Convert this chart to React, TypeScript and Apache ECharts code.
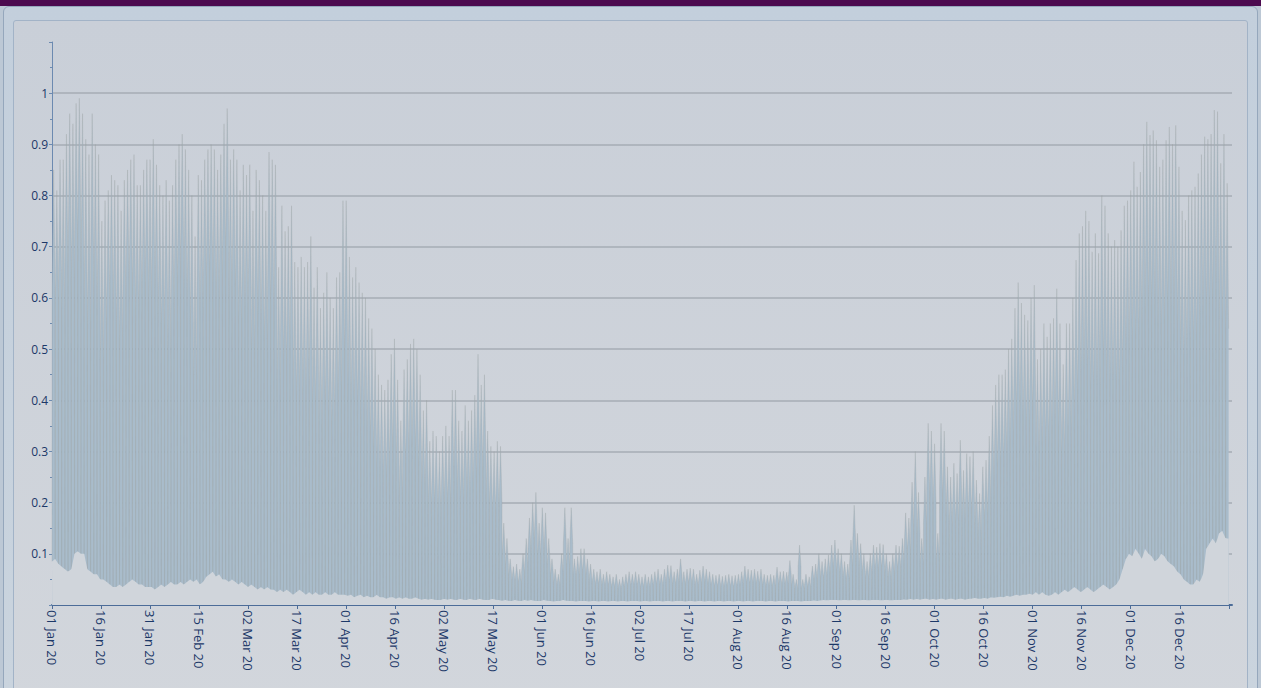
import React, { useEffect, useRef } from "react";
import * as echarts from "echarts";

// Daily peak value (one entry per day, 01 Jan 2020 .. 31 Dec 2020)
const dailyHigh: number[] = [
  // Jan
  0.85, 0.81, 0.87, 0.87, 0.92, 0.96, 0.94, 0.98, 0.99, 0.96, 0.91, 0.88, 0.96, 0.9, 0.88, 0.75, 0.79, 0.81, 0.84, 0.83, 0.82, 0.77, 0.83, 0.85, 0.87, 0.88, 0.82, 0.82, 0.85, 0.87, 0.87,
  // Feb
  0.91, 0.86, 0.82, 0.8, 0.83, 0.79, 0.82, 0.87, 0.9, 0.92, 0.89, 0.85, 0.8, 0.72, 0.84, 0.83, 0.87, 0.89, 0.9, 0.89, 0.85, 0.88, 0.94, 0.97, 0.87, 0.89, 0.87, 0.81, 0.86,
  // Mar
  0.84, 0.86, 0.77, 0.85, 0.83, 0.8, 0.77, 0.885, 0.87, 0.86, 0.66, 0.78, 0.73, 0.74, 0.78, 0.67, 0.66, 0.68, 0.66, 0.67, 0.72, 0.62, 0.66, 0.58, 0.61, 0.65, 0.6, 0.58, 0.64, 0.65, 0.79,
  // Apr
  0.79, 0.68, 0.64, 0.66, 0.63, 0.61, 0.6, 0.56, 0.54, 0.5, 0.45, 0.43, 0.42, 0.44, 0.49, 0.52, 0.44, 0.36, 0.46, 0.48, 0.51, 0.52, 0.5, 0.45, 0.38, 0.4, 0.32, 0.34, 0.33, 0.3,
  // May
  0.33, 0.35, 0.33, 0.42, 0.42, 0.36, 0.34, 0.39, 0.36, 0.38, 0.41, 0.49, 0.43, 0.45, 0.34, 0.31, 0.3, 0.32, 0.31, 0.16, 0.13, 0.09, 0.075, 0.08, 0.07, 0.1, 0.13, 0.17, 0.2, 0.22, 0.16,
  // Jun
  0.19, 0.18, 0.13, 0.09, 0.07, 0.06, 0.1, 0.19, 0.13, 0.19, 0.09, 0.095, 0.11, 0.11, 0.09, 0.08, 0.07, 0.065, 0.07, 0.06, 0.065, 0.06, 0.055, 0.06, 0.05, 0.055, 0.06, 0.065, 0.06, 0.065,
  // Jul
  0.06, 0.055, 0.06, 0.055, 0.06, 0.065, 0.07, 0.06, 0.07, 0.078, 0.077, 0.065, 0.07, 0.09, 0.065, 0.07, 0.072, 0.07, 0.06, 0.068, 0.076, 0.07, 0.065, 0.06, 0.058, 0.06, 0.056, 0.058, 0.06, 0.057, 0.058,
  // Aug
  0.06, 0.065, 0.076, 0.07, 0.068, 0.07, 0.066, 0.07, 0.06, 0.058, 0.06, 0.058, 0.074, 0.065, 0.066, 0.064, 0.087, 0.06, 0.05, 0.117, 0.05, 0.06, 0.055, 0.076, 0.08, 0.1, 0.085, 0.09, 0.098, 0.117, 0.127,
  // Sep
  0.11, 0.1, 0.085, 0.08, 0.127, 0.195, 0.14, 0.12, 0.1, 0.085, 0.1, 0.117, 0.113, 0.12, 0.118, 0.1, 0.085, 0.1, 0.117, 0.115, 0.13, 0.18, 0.17, 0.24, 0.3, 0.22, 0.13, 0.25, 0.355, 0.34,
  // Oct
  0.315, 0.14, 0.355, 0.34, 0.27, 0.25, 0.277, 0.257, 0.322, 0.263, 0.296, 0.29, 0.3, 0.244, 0.218, 0.27, 0.283, 0.33, 0.39, 0.43, 0.45, 0.45, 0.46, 0.5, 0.52, 0.58, 0.63, 0.59, 0.567, 0.556, 0.6,
  // Nov
  0.625, 0.48, 0.5, 0.55, 0.524, 0.55, 0.56, 0.618, 0.55, 0.47, 0.55, 0.55, 0.6, 0.674, 0.726, 0.74, 0.77, 0.75, 0.69, 0.726, 0.687, 0.8, 0.78, 0.726, 0.7, 0.713, 0.7, 0.732, 0.78, 0.79,
  // Dec
  0.81, 0.866, 0.817, 0.846, 0.9, 0.944, 0.918, 0.927, 0.908, 0.856, 0.87, 0.908, 0.934, 0.9, 0.937, 0.856, 0.77, 0.752, 0.8, 0.81, 0.817, 0.843, 0.88, 0.915, 0.91, 0.92, 0.967, 0.964, 0.863, 0.92, 0.824,
];

// Typical morning / evening level of each day
const dailyShoulder: number[] = [
  // Jan
  0.62, 0.6, 0.65, 0.58, 0.66, 0.7, 0.64, 0.72, 0.75, 0.66, 0.6, 0.55, 0.68, 0.62, 0.58, 0.48, 0.55, 0.6, 0.63, 0.58, 0.55, 0.52, 0.6, 0.64, 0.65, 0.62, 0.58, 0.6, 0.63, 0.66, 0.6,
  // Feb
  0.66, 0.62, 0.57, 0.55, 0.6, 0.5, 0.58, 0.64, 0.66, 0.7, 0.62, 0.6, 0.55, 0.45, 0.6, 0.58, 0.64, 0.66, 0.67, 0.63, 0.6, 0.64, 0.7, 0.72, 0.6, 0.65, 0.62, 0.56, 0.6,
  // Mar
  0.58, 0.62, 0.5, 0.6, 0.57, 0.55, 0.52, 0.62, 0.6, 0.58, 0.44, 0.52, 0.48, 0.5, 0.52, 0.44, 0.42, 0.46, 0.42, 0.44, 0.48, 0.4, 0.43, 0.36, 0.4, 0.42, 0.38, 0.36, 0.42, 0.43, 0.52,
  // Apr
  0.5, 0.43, 0.4, 0.42, 0.4, 0.38, 0.38, 0.35, 0.34, 0.31, 0.28, 0.27, 0.26, 0.28, 0.31, 0.33, 0.27, 0.22, 0.29, 0.3, 0.32, 0.33, 0.31, 0.28, 0.24, 0.25, 0.2, 0.21, 0.21, 0.19,
  // May
  0.21, 0.22, 0.21, 0.27, 0.27, 0.23, 0.21, 0.25, 0.22, 0.24, 0.26, 0.31, 0.27, 0.29, 0.22, 0.2, 0.19, 0.2, 0.2, 0.1, 0.08, 0.06, 0.05, 0.05, 0.045, 0.065, 0.08, 0.11, 0.13, 0.14, 0.1,
  // Jun
  0.12, 0.11, 0.08, 0.06, 0.045, 0.04, 0.065, 0.12, 0.08, 0.12, 0.06, 0.06, 0.07, 0.07, 0.06, 0.05, 0.045, 0.042, 0.045, 0.04, 0.042, 0.04, 0.036, 0.04, 0.033, 0.036, 0.04, 0.042, 0.04, 0.042,
  // Jul
  0.04, 0.036, 0.04, 0.036, 0.04, 0.042, 0.045, 0.04, 0.045, 0.05, 0.05, 0.042, 0.045, 0.058, 0.042, 0.045, 0.047, 0.045, 0.04, 0.044, 0.05, 0.045, 0.042, 0.04, 0.038, 0.04, 0.036, 0.038, 0.04, 0.037, 0.038,
  // Aug
  0.04, 0.042, 0.05, 0.045, 0.044, 0.045, 0.043, 0.045, 0.04, 0.038, 0.04, 0.038, 0.048, 0.042, 0.043, 0.042, 0.056, 0.04, 0.033, 0.075, 0.033, 0.04, 0.036, 0.05, 0.052, 0.065, 0.055, 0.058, 0.064, 0.075, 0.082,
  // Sep
  0.07, 0.065, 0.055, 0.052, 0.08, 0.125, 0.09, 0.078, 0.065, 0.055, 0.065, 0.076, 0.073, 0.078, 0.076, 0.065, 0.055, 0.065, 0.076, 0.075, 0.085, 0.115, 0.11, 0.155, 0.19, 0.14, 0.085, 0.16, 0.23, 0.22,
  // Oct
  0.2, 0.09, 0.23, 0.22, 0.175, 0.16, 0.18, 0.165, 0.21, 0.17, 0.19, 0.19, 0.195, 0.16, 0.14, 0.175, 0.18, 0.21, 0.25, 0.28, 0.29, 0.29, 0.3, 0.32, 0.34, 0.38, 0.41, 0.38, 0.37, 0.36, 0.39,
  // Nov
  0.4, 0.31, 0.32, 0.35, 0.33, 0.35, 0.36, 0.4, 0.35, 0.3, 0.35, 0.35, 0.38, 0.42, 0.45, 0.46, 0.48, 0.47, 0.43, 0.45, 0.43, 0.5, 0.49, 0.45, 0.44, 0.45, 0.44, 0.46, 0.5, 0.51,
  // Dec
  0.52, 0.56, 0.53, 0.55, 0.58, 0.62, 0.6, 0.6, 0.59, 0.55, 0.56, 0.59, 0.61, 0.58, 0.61, 0.55, 0.5, 0.49, 0.52, 0.53, 0.53, 0.55, 0.57, 0.6, 0.59, 0.6, 0.63, 0.63, 0.56, 0.6, 0.54,
];

// Night-time minimum of each day
const dailyLow: number[] = [
  // Jan
  0.085, 0.09, 0.08, 0.075, 0.07, 0.065, 0.07, 0.1, 0.105, 0.1, 0.1, 0.07, 0.065, 0.06, 0.06, 0.05, 0.05, 0.045, 0.04, 0.035, 0.035, 0.04, 0.035, 0.04, 0.045, 0.05, 0.045, 0.04, 0.04, 0.035, 0.035,
  // Feb
  0.035, 0.03, 0.035, 0.04, 0.035, 0.04, 0.045, 0.04, 0.04, 0.045, 0.04, 0.045, 0.05, 0.045, 0.05, 0.04, 0.045, 0.055, 0.06, 0.065, 0.055, 0.06, 0.05, 0.05, 0.045, 0.05, 0.045, 0.04, 0.045,
  // Mar
  0.04, 0.035, 0.04, 0.035, 0.03, 0.035, 0.03, 0.035, 0.03, 0.03, 0.025, 0.03, 0.025, 0.03, 0.025, 0.02, 0.025, 0.03, 0.025, 0.02, 0.025, 0.02, 0.025, 0.02, 0.02, 0.025, 0.02, 0.02, 0.025, 0.02, 0.02,
  // Apr
  0.02, 0.018, 0.02, 0.015, 0.018, 0.02, 0.015, 0.018, 0.015, 0.015, 0.02, 0.015, 0.015, 0.012, 0.015, 0.015, 0.012, 0.015, 0.012, 0.015, 0.012, 0.012, 0.015, 0.012, 0.01, 0.012, 0.01, 0.012, 0.01, 0.01,
  // May
  0.01, 0.012, 0.01, 0.012, 0.01, 0.01, 0.012, 0.01, 0.01, 0.012, 0.01, 0.01, 0.012, 0.01, 0.01, 0.01, 0.012, 0.01, 0.01, 0.008, 0.01, 0.008, 0.008, 0.01, 0.008, 0.008, 0.01, 0.008, 0.01, 0.008, 0.008,
  // Jun
  0.008, 0.01, 0.008, 0.008, 0.007, 0.008, 0.008, 0.01, 0.008, 0.008, 0.008, 0.007, 0.008, 0.008, 0.008, 0.007, 0.008, 0.008, 0.007, 0.008, 0.008, 0.007, 0.008, 0.008, 0.007, 0.008, 0.008, 0.007, 0.008, 0.008,
  // Jul
  0.008, 0.007, 0.008, 0.008, 0.007, 0.008, 0.008, 0.008, 0.007, 0.008, 0.008, 0.007, 0.008, 0.008, 0.008, 0.007, 0.008, 0.008, 0.007, 0.008, 0.008, 0.007, 0.008, 0.008, 0.007, 0.008, 0.008, 0.007, 0.008, 0.008, 0.007,
  // Aug
  0.008, 0.008, 0.007, 0.008, 0.008, 0.007, 0.008, 0.008, 0.008, 0.007, 0.008, 0.008, 0.007, 0.008, 0.008, 0.008, 0.007, 0.008, 0.008, 0.008, 0.007, 0.008, 0.008, 0.008, 0.009, 0.008, 0.009, 0.01, 0.009, 0.01, 0.01,
  // Sep
  0.01, 0.009, 0.01, 0.01, 0.009, 0.01, 0.01, 0.009, 0.01, 0.01, 0.009, 0.01, 0.01, 0.01, 0.009, 0.01, 0.01, 0.009, 0.01, 0.01, 0.01, 0.011, 0.01, 0.012, 0.01, 0.012, 0.01, 0.012, 0.012, 0.01,
  // Oct
  0.012, 0.01, 0.012, 0.012, 0.01, 0.012, 0.012, 0.01, 0.012, 0.012, 0.01, 0.012, 0.012, 0.014, 0.012, 0.012, 0.014, 0.012, 0.015, 0.014, 0.015, 0.016, 0.015, 0.018, 0.016, 0.018, 0.02, 0.018, 0.02, 0.02, 0.022,
  // Nov
  0.02, 0.025, 0.02, 0.025, 0.02, 0.018, 0.02, 0.025, 0.02, 0.025, 0.03, 0.025, 0.03, 0.035, 0.03, 0.025, 0.03, 0.035, 0.03, 0.025, 0.03, 0.035, 0.04, 0.035, 0.03, 0.035, 0.04, 0.05, 0.07, 0.09,
  // Dec
  0.1, 0.095, 0.11, 0.1, 0.09, 0.11, 0.1, 0.095, 0.085, 0.09, 0.1, 0.095, 0.085, 0.08, 0.075, 0.065, 0.06, 0.05, 0.045, 0.04, 0.04, 0.05, 0.045, 0.06, 0.11, 0.12, 0.13, 0.12, 0.14, 0.145, 0.13,
];

const monthNames = ["Jan", "Feb", "Mar", "Apr", "May", "Jun", "Jul", "Aug", "Sep", "Oct", "Nov", "Dec"];
const yearLabel = "20";
const tickIntervalDays = 15.25;

function dayLabel(v: number): string {
  if (v > 360) return "";
  const d = new Date(Date.UTC(2020, 0, 1) + Math.floor(v + 1e-6) * 86400000);
  const dd = String(d.getUTCDate()).padStart(2, "0");
  return `${dd} ${monthNames[d.getUTCMonth()]} ${yearLabel}`;
}

// Samples within a day: night low, morning level, midday peak, evening level
function buildSeries() {
  const offsets = [0, 0.05, 0.5, 0.95];
  const floor: number[][] = [];
  const level: number[][] = [];
  const n = dailyHigh.length;
  for (let d = 0; d < n; d++) {
    const lo = dailyLow[d];
    const loNext = dailyLow[Math.min(d + 1, n - 1)];
    const vals = [lo, dailyShoulder[d], dailyHigh[d], dailyShoulder[d]];
    for (let k = 0; k < 4; k++) {
      const t = d + offsets[k];
      level.push([t, vals[k]]);
      floor.push([t, lo + (loNext - lo) * offsets[k]]);
    }
  }
  return { floor, level };
}

const panelBottomColor = "#d0d5db";

export default function App() {
  const ref = useRef<HTMLDivElement>(null);
  useEffect(() => {
    if (!ref.current) return;
    const chart = echarts.init(ref.current, undefined, { renderer: "svg" });
    const { floor, level } = buildSeries();
    const labelColor = "#1c3868";
    chart.setOption({
      animation: false,
      backgroundColor: "transparent",
      grid: { left: 52, right: 29, top: 42, bottom: 83, containLabel: false },
      xAxis: {
        type: "value",
        min: 0,
        max: 367,
        interval: tickIntervalDays,
        axisLine: { show: true, lineStyle: { color: "#4c6c98", width: 2 } },
        axisTick: { show: true, length: 4, lineStyle: { color: "#4c6c98" } },
        splitLine: { show: false },
        axisLabel: {
          rotate: -90,
          margin: 5,
          color: labelColor,
          fontSize: 13,
          fontFamily: "Open Sans",
          formatter: (v: number) => dayLabel(v),
          showMaxLabel: false,
        },
      },
      yAxis: {
        type: "value",
        min: 0,
        max: 1.1,
        interval: 0.1,
        axisLine: { show: true, lineStyle: { color: "#6c8ab0", width: 1 } },
        axisTick: { show: true, length: 3, lineStyle: { color: "#6c8ab0" } },
        minorTick: { show: true, splitNumber: 2, length: 2, lineStyle: { color: "#6c8ab0" } },
        splitLine: {
          show: true,
          showMinLine: false,
          showMaxLine: false,
          lineStyle: { color: "#a6adb5", width: 1.5 },
        },
        axisLabel: {
          color: labelColor,
          fontSize: 12,
          fontFamily: "Open Sans",
          margin: 4,
          formatter: (v: number) => (v < 0.05 || v > 1.05 ? "" : String(Math.round(v * 10) / 10)),
        },
      },
      series: [
        {
          type: "line",
          data: level,
          symbol: "none",
          silent: true,
          z: 2,
          lineStyle: { color: "#98a29f", width: 0.5, opacity: 0.55 },
          areaStyle: { color: "#a9bccb", opacity: 1 },
        },
        {
          type: "line",
          data: floor,
          symbol: "none",
          silent: true,
          z: 3,
          lineStyle: { width: 0, opacity: 0 },
          areaStyle: { color: panelBottomColor, opacity: 1 },
        },
      ],
    });
    return () => chart.dispose();
  }, []);

  return (
    <div style={{ position: "fixed", left: 0, top: 0, width: 1261, height: 688, overflow: "hidden", background: "#bcc8d5" }}>
      <div style={{ position: "absolute", left: 0, top: 0, width: 1261, height: 6, background: "#4c0a4f" }} />
      <div
        style={{
          position: "absolute",
          left: 3,
          top: 6,
          width: 1253,
          height: 700,
          borderRadius: "6px 6px 0 0",
          border: "1px solid #95a7bc",
          background: "linear-gradient(180deg, #c3cfdc 0%, #cad4de 100%)",
        }}
      />
      <div
        style={{
          position: "absolute",
          left: 13,
          top: 20,
          width: 1233,
          height: 690,
          borderRadius: 3,
          border: "1px solid #a2b3c7",
          background: "linear-gradient(180deg, #c9cfd8 0%, #d2d6dc 100%)",
        }}
      />
      <div ref={ref} style={{ position: "absolute", left: 0, top: 0, width: 1261, height: 688 }} />
    </div>
  );
}
